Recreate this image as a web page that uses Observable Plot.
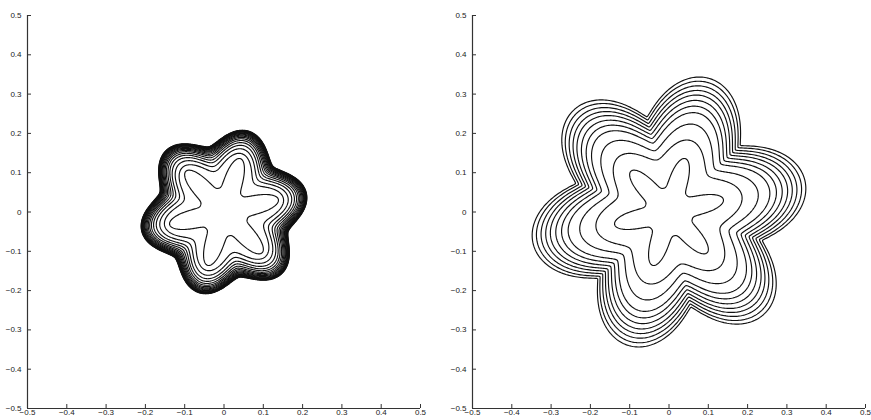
<!DOCTYPE html>
<html>
<head>
<meta charset="utf-8">
<script src="https://cdn.jsdelivr.net/npm/d3@7"></script>
<script src="https://cdn.jsdelivr.net/npm/@observablehq/plot@0.6"></script>
<style>
  html, body { margin: 0; padding: 0; background: #fff; }
  #wrap { display: flex; width: 871px; height: 420px; }
  #wrap svg { display: block; }
</style>
</head>
<body>
<div id="wrap"></div>
<script>
// ---- axis ticks ----
const tickValues = [-0.5, -0.4, -0.3, -0.2, -0.1, 0, 0.1, 0.2, 0.3, 0.4, 0.5];
const tickLabels = ["−0.5", "−0.4", "−0.3", "−0.2", "−0.1", "0", "0.1", "0.2", "0.3", "0.4", "0.5"];

// ---- six-lobed fronts: lobe direction (deg), lobe-tip radius, valley radius, lobe fullness ----
const lobeCount = 6;
const lobePhaseDeg = 13;

// initial star (same in both panels); fullness > 1 = narrow petals
const starTip = 0.142;
const starValley = 0.062;
const starFull = 1.5;

// left panel: fronts outside the star
const leftTip    = [0.155, 0.167, 0.176, 0.183, 0.1885, 0.193, 0.1967, 0.1998, 0.2025, 0.2048, 0.2068, 0.2085, 0.2099, 0.2111, 0.2121, 0.213, 0.2138, 0.2145, 0.215];
const leftValley = [0.106, 0.119, 0.129, 0.136, 0.1420, 0.147, 0.1510, 0.1543, 0.1572, 0.1596, 0.1617, 0.1635, 0.1650, 0.1663, 0.1674, 0.1684, 0.1693, 0.1701, 0.1708];
const leftFull   = [1.0, 0.95, 0.92, 0.9, 0.88, 0.86, 0.85, 0.84, 0.83, 0.82, 0.81, 0.8, 0.8, 0.8, 0.8, 0.8, 0.8, 0.8, 0.8];

// right panel: fronts outside the star
const rightTip    = [0.190, 0.232, 0.262, 0.279, 0.294, 0.308, 0.320, 0.332, 0.344, 0.355];
const rightValley = [0.136, 0.160, 0.180, 0.192, 0.203, 0.213, 0.222, 0.231, 0.240, 0.248];
const rightFull   = [0.9, 0.8, 0.72, 0.68, 0.65, 0.62, 0.6, 0.58, 0.56, 0.55];

// ---- build closed outlines from the per-front parameters ----
function front(id, tip, valley, full) {
  const phi = lobePhaseDeg * Math.PI / 180;
  const n = 600, pts = [];
  for (let i = 0; i <= n; i++) {
    const t = 2 * Math.PI * i / n;
    const u = lobeCount * (t - phi);
    const r = valley + (tip - valley) * Math.pow((1 + Math.cos(u)) / 2, full);
    pts.push({id, x: r * Math.cos(t), y: r * Math.sin(t)});
  }
  return pts;
}

function panelData(tips, valleys, fulls) {
  let rows = front(0, starTip, starValley, starFull);
  tips.forEach((t, i) => { rows = rows.concat(front(i + 1, t, valleys[i], fulls[i])); });
  return rows;
}

const fmt = d => tickLabels[tickValues.findIndex(v => Math.abs(v - d) < 1e-9)];
const axisMin = tickValues[0];

function panel(width, marginLeft, marginRight, rows) {
  return Plot.plot({
    width, height: 420,
    marginLeft, marginRight, marginTop: 15, marginBottom: 12,
    x: {domain: [tickValues[0], tickValues[tickValues.length - 1]]},
    y: {domain: [tickValues[0], tickValues[tickValues.length - 1]]},
    style: {fontFamily: "'Liberation Sans', Arial, Helvetica, sans-serif", fontSize: "8px", color: "#222", background: "#fff", overflow: "visible"},
    marks: [
      Plot.axisX({ticks: tickValues, tickFormat: fmt, tickSize: -4, tickPadding: 5, label: null, fontSize: 8, stroke: "#333"}),
      Plot.axisY({ticks: tickValues, tickFormat: fmt, tickSize: -4, tickPadding: 10, label: null, fontSize: 8, stroke: "#333"}),
      Plot.ruleX([axisMin], {stroke: "#333", strokeWidth: 1.2}),
      Plot.ruleY([axisMin], {stroke: "#333", strokeWidth: 1.2}),
      Plot.line(rows, {x: "x", y: "y", z: "id", stroke: "#111", strokeWidth: 1.15})
    ]
  });
}

const wrap = document.getElementById("wrap");
wrap.appendChild(panel(436, 27, 16, panelData(leftTip, leftValley, leftFull)));
wrap.appendChild(panel(435, 36, 6, panelData(rightTip, rightValley, rightFull)));
</script>
</body>
</html>
